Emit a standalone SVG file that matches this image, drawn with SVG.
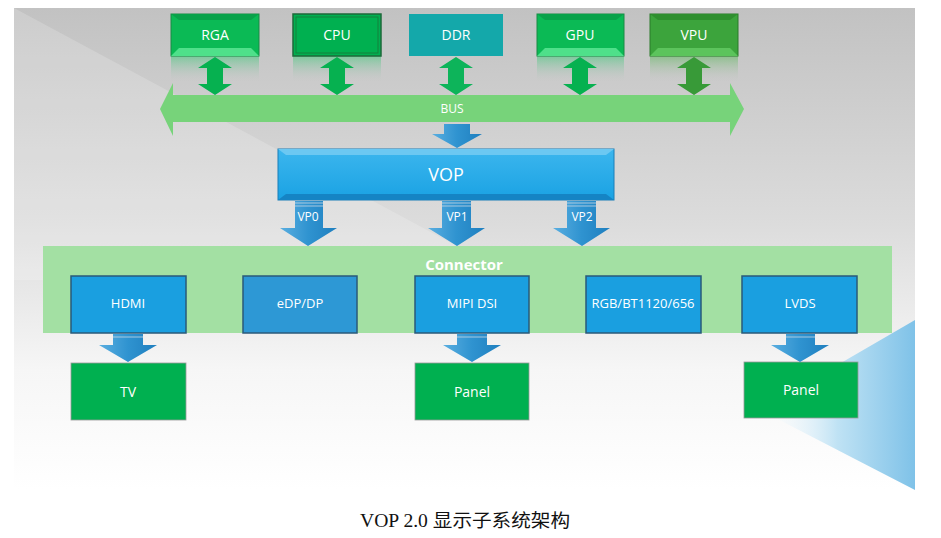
<svg xmlns="http://www.w3.org/2000/svg" width="941" height="538" viewBox="0 0 941 538">
<defs>
<linearGradient id="bg" x1="0" y1="0" x2="0" y2="1">
<stop offset="0" stop-color="#c2c2c2"/>
<stop offset="0.45" stop-color="#dcdcdc"/>
<stop offset="0.75" stop-color="#f6f6f6"/>
<stop offset="1" stop-color="#ffffff"/>
</linearGradient>
<linearGradient id="blueTri" x1="1" y1="0" x2="0" y2="0">
<stop offset="0" stop-color="#7fc2e8"/>
<stop offset="0.5" stop-color="#bfe2f4"/>
<stop offset="1" stop-color="#ffffff" stop-opacity="0"/>
</linearGradient>
<linearGradient id="refl" x1="0" y1="0" x2="0" y2="1">
<stop offset="0" stop-color="#3cc878" stop-opacity="0.55"/>
<stop offset="1" stop-color="#c4c4c4" stop-opacity="0"/>
</linearGradient>
<linearGradient id="reflV" x1="0" y1="0" x2="0" y2="1">
<stop offset="0" stop-color="#5cb85c" stop-opacity="0.55"/>
<stop offset="1" stop-color="#c4c4c4" stop-opacity="0"/>
</linearGradient>
<linearGradient id="vopg" x1="0" y1="0" x2="0" y2="1">
<stop offset="0" stop-color="#3cb6ee"/>
<stop offset="1" stop-color="#1aa2e3"/>
</linearGradient>
<linearGradient id="arrowBlue" x1="0" y1="0" x2="1" y2="0">
<stop offset="0" stop-color="#5aaee0"/>
<stop offset="0.5" stop-color="#2f93d0"/>
<stop offset="1" stop-color="#1f7fbf"/>
</linearGradient>
</defs>
<style>
.t{font-family:"Open Sans","Liberation Sans",sans-serif;fill:#ffffff;text-anchor:middle}
.top{font-size:14px}
.box{font-size:13px}
.bx{stroke:#2a5a7a;stroke-width:1.5}
.blue{fill:#1a9fe0}
.green{fill:#00b050}
.dn{fill:url(#arrowBlue)}
</style>
<!-- background -->
<rect x="14" y="8" width="901" height="482" fill="url(#bg)"/>
<polygon points="14,8 520,280 14,280" fill="#ffffff" opacity="0.18"/>
<polygon points="915,320 915,490 760,410" fill="url(#blueTri)"/>

<!-- top nodes -->
<g id="rga">
<rect x="171" y="56" width="88" height="26" fill="url(#refl)"/>
<rect x="171" y="14" width="88" height="42" fill="#0bba55" stroke="#1a8a45" stroke-width="1"/>
<polygon points="171,56 259,56 251,48 179,48" fill="#4fe08a"/>
<polygon points="171,14 259,14 251,20 179,20" fill="#09a24a"/>
<text class="t top" x="215" y="40">RGA</text>
</g>
<g id="cpu">
<rect x="293" y="56" width="88" height="26" fill="url(#refl)"/>
<rect x="293" y="14" width="88" height="42" fill="#00b050" stroke="#1d6a3a" stroke-width="1.5"/>
<rect x="296" y="17" width="82" height="36" fill="none" stroke="#15803c" stroke-width="1"/>
<text class="t top" x="337" y="40">CPU</text>
</g>
<g id="ddr">
<rect x="409" y="14" width="94" height="42" fill="#14a8aa"/>
<text class="t top" x="456" y="40">DDR</text>
</g>
<g id="gpu">
<rect x="537" y="56" width="87" height="26" fill="url(#refl)"/>
<rect x="537" y="14" width="87" height="42" fill="#0bba55" stroke="#1a8a45" stroke-width="1"/>
<polygon points="537,56 624,56 616,48 545,48" fill="#4fe08a"/>
<polygon points="537,14 624,14 616,20 545,20" fill="#09a24a"/>
<text class="t top" x="580" y="40">GPU</text>
</g>
<g id="vpu">
<rect x="650" y="56" width="88" height="26" fill="url(#reflV)"/>
<rect x="650" y="14" width="88" height="42" fill="#3ca43c" stroke="#2a7a2a" stroke-width="1"/>
<polygon points="650,56 738,56 730,48 658,48" fill="#5cc45c"/>
<polygon points="650,14 738,14 730,20 658,20" fill="#2f8f2f"/>
<text class="t top" x="694" y="40">VPU</text>
</g>

<g id="bus">
<polygon points="160,109 173,83 173,95 730,95 730,83 744,109 730,136 730,122 173,122 173,136" fill="#77d37a"/>
<text class="t" x="452" y="113" font-size="12">BUS</text>
</g>

<g id="vop">
<rect x="278" y="149" width="336" height="51" fill="url(#vopg)" stroke="#1a7fb8" stroke-width="1"/>
<polygon points="278,149 614,149 606,155 286,155" fill="#6cc8f2"/>
<polygon points="278,200 614,200 606,194 286,194" fill="#1584c4"/>
<text class="t" x="446" y="181" font-size="18">VOP</text>
</g>

<g id="connector">
<rect x="43" y="246" width="849" height="87" fill="#a3e0a3"/>
<text class="t" x="464" y="270" font-size="15" font-weight="bold">Connector</text>
</g>
<g id="hdmi"><rect class="blue bx" x="71" y="276" width="115" height="57"/><text class="t box" x="128" y="308">HDMI</text></g>
<g id="edp"><rect class="bx" fill="#2d98d5" x="243" y="276" width="114" height="57"/><text class="t box" x="300" y="308">eDP/DP</text></g>
<g id="mipi"><rect class="blue bx" x="415" y="276" width="114" height="57"/><text class="t box" x="472" y="308">MIPI DSI</text></g>
<g id="rgb"><rect class="blue bx" x="586" y="276" width="115" height="57"/><text class="t box" x="643" y="308">RGB/BT1120/656</text></g>
<g id="lvds"><rect class="blue bx" x="742" y="276" width="115" height="57"/><text class="t box" x="800" y="308">LVDS</text></g>

<g id="tv"><rect class="green" x="71" y="363" width="115" height="57" stroke="#9a9a9a" stroke-width="0.8"/><text class="t top" x="128" y="397">TV</text></g>
<g id="panel1"><rect class="green" x="415" y="363" width="114" height="57" stroke="#9a9a9a" stroke-width="0.8"/><text class="t top" x="472" y="397">Panel</text></g>
<g id="panel2"><rect class="green" x="744" y="362" width="114" height="56" stroke="#9a9a9a" stroke-width="0.8"/><text class="t top" x="801" y="395">Panel</text></g>

<g id="connectors">
<!-- double arrows -->
<polygon points="215,57 232,68 223,68 223,84 232,84 215,95 198,84 207,84 207,68 198,68" fill="#06b150"/>
<polygon points="337,57 354,68 345,68 345,84 354,84 337,95 320,84 329,84 329,68 320,68" fill="#06b150"/>
<polygon points="456,57 473,68 464,68 464,84 473,84 456,95 439,84 448,84 448,68 439,68" fill="#0db45a"/>
<polygon points="580,57 597,68 588,68 588,84 597,84 580,95 563,84 572,84 572,68 563,68" fill="#06b150"/>
<polygon points="694,57 711,68 702,68 702,84 711,84 694,95 677,84 686,84 686,68 677,68" fill="#389a38"/>
<!-- bus to vop -->
<polygon class="dn" points="444,124 470,124 470,134 482,134 457,148 432,134 444,134"/>
<!-- VP arrows -->
<polygon class="dn" points="295,201 323,201 323,228 337,228 308,246 280,228 295,228"/>
<polygon class="dn" points="442,201 471,201 471,228 485,228 457,246 428,228 442,228"/>
<polygon class="dn" points="567,201 596,201 596,228 610,228 582,246 553,228 567,228"/>
<g stroke="#c8d8e4" stroke-width="0.8">
<line x1="295" y1="203" x2="323" y2="203"/><line x1="295" y1="206" x2="323" y2="206"/>
<line x1="442" y1="203" x2="471" y2="203"/><line x1="442" y1="206" x2="471" y2="206"/>
<line x1="567" y1="203" x2="596" y2="203"/><line x1="567" y1="206" x2="596" y2="206"/>
</g>
<text class="t" x="308" y="221" font-size="12">VP0</text>
<text class="t" x="457" y="221" font-size="12">VP1</text>
<text class="t" x="582" y="221" font-size="12">VP2</text>
<!-- bottom arrows -->
<polygon class="dn" points="113,334 143,334 143,345 157,345 128,362 99,345 113,345"/>
<polygon class="dn" points="457,334 487,334 487,345 501,345 472,362 443,345 457,345"/>
<polygon class="dn" points="786,334 815,334 815,345 829,345 800,362 771,345 786,345"/>
<g stroke="#c8d8e4" stroke-width="0.8">
<line x1="113" y1="337" x2="143" y2="337"/><line x1="457" y1="337" x2="487" y2="337"/><line x1="786" y1="337" x2="815" y2="337"/>
</g>
</g>

<text x="360" y="527" font-family="'Liberation Serif','Noto Sans CJK SC',serif" font-size="18" fill="#111" textLength="210" lengthAdjust="spacingAndGlyphs">VOP 2.0 显示子系统架构</text>
</svg>
